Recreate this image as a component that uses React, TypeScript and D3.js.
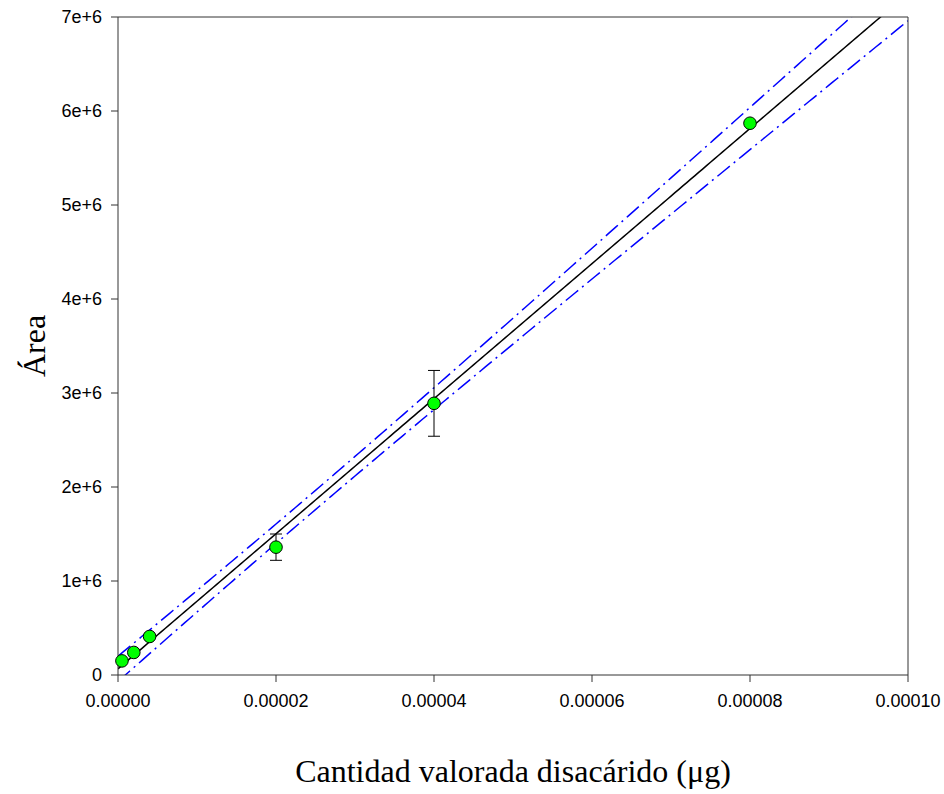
import React from "react";
import * as d3 from "d3";

const xData = [5e-7, 2e-6, 4e-6, 2e-5, 4e-5, 8e-5];
const yData = [1.5e5, 2.4e5, 4.1e5, 1.36e6, 2.89e6, 5.87e6];
const yErr = [0, 0, 0, 1.4e5, 3.5e5, 0];
const xTicks = [0, 0.00002, 0.00004, 0.00006, 0.00008, 0.0001];
const yTicks = [0, 1e6, 2e6, 3e6, 4e6, 5e6, 6e6, 7e6];
const confLevel = 0.95;
const tValue = 2.776; // two-sided 95%, df = 4

const W = 944, H = 794;
const M = { left: 118, right: 908, top: 17, bottom: 675 };

export default function App() {
  const x = d3.scaleLinear().domain([0, 0.0001]).range([M.left, M.right]);
  const y = d3.scaleLinear().domain([0, 7e6]).range([M.bottom, M.top]);

  // linear regression with confidence bands
  const n = xData.length;
  const xm = d3.mean(xData)!;
  const ym = d3.mean(yData)!;
  let sxx = 0, sxy = 0;
  for (let i = 0; i < n; i++) {
    sxx += (xData[i] - xm) ** 2;
    sxy += (xData[i] - xm) * (yData[i] - ym);
  }
  const b = sxy / sxx;
  const a = ym - b * xm;
  let sse = 0;
  for (let i = 0; i < n; i++) sse += (yData[i] - (a + b * xData[i])) ** 2;
  const s = Math.sqrt(sse / (n - 2));
  const hw = (xv: number) => tValue * s * Math.sqrt(1 / n + (xv - xm) ** 2 / sxx);
  void confLevel;

  const xs = d3.range(0, 201).map((i) => (i / 200) * 0.0001);
  const fitPath = d3.line<number>().x((d) => x(d)).y((d) => y(a + b * d))(xs)!;
  const upPath = d3.line<number>().x((d) => x(d)).y((d) => y(a + b * d + hw(d)))(xs)!;
  const loPath = d3.line<number>().x((d) => x(d)).y((d) => y(a + b * d - hw(d)))(xs)!;

  const axisColor = "#333";
  const tickFont = "Liberation Sans, Arial, sans-serif";
  const serif = "Liberation Serif, Times New Roman, serif";

  return (
    <svg width={W} height={H} style={{ position: "absolute", left: 0, top: 0, background: "#fff" }}>
      <defs>
        <clipPath id="plot">
          <rect x={M.left} y={M.top} width={M.right - M.left} height={M.bottom - M.top} />
        </clipPath>
      </defs>
      <g clipPath="url(#plot)">
        <path d={upPath} fill="none" stroke="#0000ff" strokeWidth={1.5} strokeDasharray="16,5,2,5" />
        <path d={loPath} fill="none" stroke="#0000ff" strokeWidth={1.5} strokeDasharray="16,5,2,5" />
        <path d={fitPath} fill="none" stroke="#000" strokeWidth={1.5} />
      </g>
      <line x1={M.left} x2={M.right} y1={M.top} y2={M.top} stroke={axisColor} strokeWidth={1} />
      <line x1={M.right} x2={M.right} y1={M.top} y2={M.bottom} stroke={axisColor} strokeWidth={1} />
      <line x1={M.left} x2={M.right} y1={M.bottom} y2={M.bottom} stroke={axisColor} strokeWidth={1} />
      <line x1={M.left} x2={M.left} y1={M.top} y2={M.bottom} stroke={axisColor} strokeWidth={1} />
      {yTicks.map((t) => (
        <g key={"y" + t}>
          <line x1={M.left - 7} x2={M.left} y1={y(t)} y2={y(t)} stroke={axisColor} strokeWidth={1} />
          <text x={M.left - 16} y={y(t)} dy="0.35em" textAnchor="end" fontFamily={tickFont} fontSize={18} fill="#000">
            {t === 0 ? "0" : `${t / 1e6}e+6`}
          </text>
        </g>
      ))}
      {xTicks.map((t) => (
        <g key={"x" + t}>
          <line x1={x(t)} x2={x(t)} y1={M.bottom} y2={M.bottom + 7} stroke={axisColor} strokeWidth={1} />
          <text x={x(t)} y={M.bottom + 32} textAnchor="middle" fontFamily={tickFont} fontSize={18} fill="#000">
            {t.toFixed(5)}
          </text>
        </g>
      ))}
      {xData.map((xv, i) =>
        yErr[i] > 0 ? (
          <g key={"e" + i} stroke="#000" strokeWidth={1}>
            <line x1={x(xv)} x2={x(xv)} y1={y(yData[i] + yErr[i])} y2={y(yData[i] - yErr[i])} />
            <line x1={x(xv) - 6} x2={x(xv) + 6} y1={y(yData[i] + yErr[i])} y2={y(yData[i] + yErr[i])} />
            <line x1={x(xv) - 6} x2={x(xv) + 6} y1={y(yData[i] - yErr[i])} y2={y(yData[i] - yErr[i])} />
          </g>
        ) : null
      )}
      {xData.map((xv, i) => (
        <circle key={"p" + i} cx={x(xv)} cy={y(yData[i])} r={6.3} fill="#00ff00" stroke="#000" strokeWidth={1} />
      ))}
      <text x={(M.left + M.right) / 2} y={782} textAnchor="middle" fontFamily={serif} fontSize={32} fill="#000">
        Cantidad valorada disacárido (μg)
      </text>
      <text transform={`translate(45, ${(M.top + M.bottom) / 2}) rotate(-90)`} textAnchor="middle" fontFamily={serif} fontSize={32} fill="#000">
        Área
      </text>
    </svg>
  );
}
